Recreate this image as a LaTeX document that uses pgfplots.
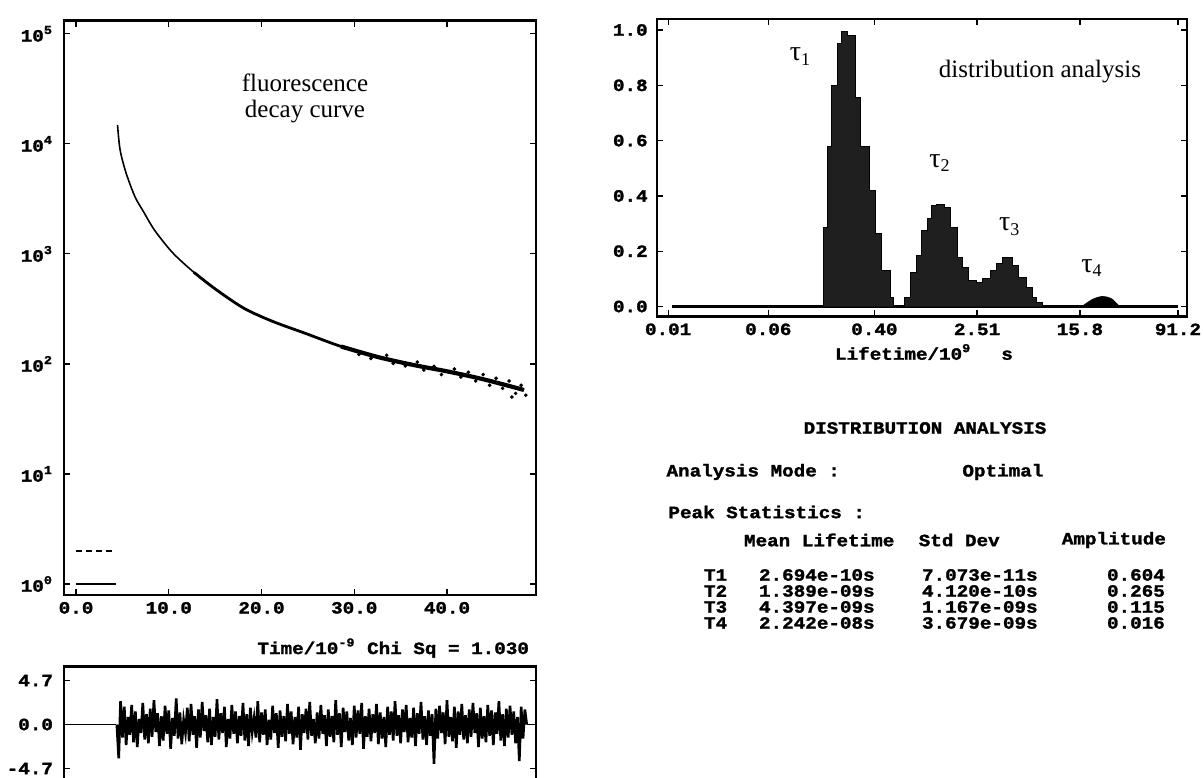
\documentclass[border=0pt]{standalone}
\usepackage{fontspec}
\setmainfont{Liberation Serif}
\newfontfamily\cour{Liberation Mono}[FakeStretch=1.12, BoldFeatures={FakeBold=1.6}]
\usepackage{pgfplots}
\pgfplotsset{compat=1.18}
\newcommand\tl{\cour\bfseries\fontsize{8.6bp}{10bp}\selectfont}
\newcommand\pw[1]{10\textsuperscript{#1}}
\newcommand\Tau[1]{{\fontsize{14bp}{16bp}\selectfont τ\raisebox{-0.35ex}{\fontsize{9bp}{10bp}\selectfont #1}}}
\pgfplotsset{panel/.style={scale only axis, axis line style={line width=1.1pt},
  every tick/.style={black, line width=0.6pt}, major tick length=3bp, tick align=inside,
  ticklabel style={font=\tl}}}
\begin{document}
\begin{tikzpicture}
\useasboundingbox (0,0) rectangle (601.5bp,389bp);
% ---------- decay curve ----------
\begin{axis}[panel, at={(32bp,91.5bp)}, anchor=south west, width=236bp, height=287.2bp,
  ymode=log, log basis y=10, xmin=-1.3, xmax=49.6, ymin=0.794, ymax=1.32e5,
  xtick={0,10,20,30,40}, xticklabels={0.0,10.0,20.0,30.0,40.0},
  ytick={1,10,100,1000,10000,100000}, yticklabel style={xshift=-2bp},
  yticklabels={\pw{0},\pw{1},\pw{2},\pw{3},\pw{4},\pw{5}}, yminorticks=false]
\addplot[black, line width=0.8pt, smooth] coordinates {(4.47,14900)(4.75,8820)(5.39,5450)(6.36,3300)(7.3,2400)(8.45,1650)(10.39,1030)(12.71,680)(15.04,478)(18.12,320)(21.23,243)(24.70,190)(28.59,144)(32.46,116)(36.33,98)(40.2,85)(44.08,72)(48.3,58)};
\addplot[black, line width=1.4pt, smooth] coordinates {(12.71,680)(15.04,478)(18.12,320)(21.23,243)(24.70,190)(28.59,144)(32.46,116)(36.33,98)(40.2,85)(44.08,72)(48.3,58)};
\addplot[black, line width=2.1pt, smooth] coordinates {(28.59,144)(32.46,116)(36.33,98)(40.2,85)(44.08,72)(48.3,58)};
\addplot[only marks, mark=*, mark size=0.7pt, black] coordinates {(30.5,122)(31.8,112)(33.5,120)(34.2,101)(35.5,96)(36.8,104)(37.5,88)(38.6,95)(39.4,80)(40.8,90)(41.5,76)(42.3,84)(43.1,70)(43.9,80)(44.6,64)(45.3,74)(46.0,60)(46.7,70)(47.4,54)(48.0,64)(48.5,52)(47.0,50)};
\addplot[black, line width=1.2pt] coordinates {(0,1)(4.3,1)};
\addplot[black, line width=1.2pt, dash pattern=on 3bp off 2bp] coordinates {(0,2)(4.3,2)};
\end{axis}
% ---------- residuals ----------
\begin{axis}[panel, at={(32bp,-4.15bp)}, anchor=south west, width=236bp, height=59.9bp,
  xmin=-1.3, xmax=49.6, ymin=-6.6, ymax=6.2, xtick=\empty,
  ytick={-4.7,0,4.7}, yticklabels={-4.7,0.0,4.7}, yticklabel style={xshift=-2bp}]
\addplot[black, line width=0.9pt] coordinates {(-1.3,0)(4.3,0)};
\addplot[black, line width=0.9pt] coordinates {(48.6,0)(49.6,0)};
\addplot[black, line width=1.3pt] coordinates {
(4.4,0.0)(4.6,-3.6)(4.8,2.5)(5.0,-1.4)(5.2,1.9)(5.4,-2.2)(5.6,0.8)(5.8,-1.1)(6.0,2.1)(6.2,-1.9)
(6.4,1.4)(6.6,-2.4)(6.8,0.6)(7.0,-0.9)(7.2,2.3)(7.4,-1.6)(7.6,1.1)(7.8,-2.0)(8.0,1.7)(8.2,-1.3)
(8.4,2.6)(8.6,-0.8)(8.8,1.2)(9.0,-2.3)(9.2,0.9)(9.4,-1.7)(9.6,2.0)(9.8,-1.0)(10.0,1.5)(10.2,-2.6)
(10.4,0.7)(10.6,-1.2)(10.8,2.8)(11.0,-1.5)(11.2,1.3)(11.4,-2.1)(11.6,0.5)(11.8,-0.9)(12.0,1.8)(12.2,-1.8)
(12.4,2.2)(12.6,-1.1)(12.8,0.9)(13.0,-2.5)(13.2,1.6)(13.4,-1.4)(13.6,2.4)(13.8,-0.7)(14.0,1.0)(14.2,-1.9)
(14.4,1.7)(14.6,-2.2)(14.8,0.8)(15.0,-1.3)(15.2,2.7)(15.4,-1.6)(15.6,1.2)(15.8,-0.9)(16.0,1.9)(16.2,-2.4)
(16.4,0.6)(16.6,-1.5)(16.8,2.1)(17.0,-1.0)(17.2,1.4)(17.4,-2.0)(17.6,0.9)(17.8,-1.2)(18.0,2.3)(18.2,-1.7)
(18.4,1.1)(18.6,-2.3)(18.8,1.8)(19.0,-0.8)(19.2,0.7)(19.4,-1.4)(19.6,2.5)(19.8,-1.9)(20.0,1.3)(20.2,-1.1)
(20.4,1.6)(20.6,-2.2)(20.8,0.5)(21.0,-1.6)(21.2,2.0)(21.4,-0.9)(21.6,1.2)(21.8,-2.5)(22.0,1.5)(22.2,-1.3)
(22.4,0.9)(22.6,-1.8)(22.8,2.2)(23.0,-1.0)(23.2,1.4)(23.4,-2.1)(23.6,0.8)(23.8,-1.4)(24.0,1.9)(24.2,-2.7)
(24.4,1.1)(24.6,-0.9)(24.8,1.7)(25.0,-1.6)(25.2,2.4)(25.4,-1.2)(25.6,0.6)(25.8,-2.0)(26.0,1.3)(26.2,-1.5)
(26.4,2.1)(26.6,-1.0)(26.8,1.0)(27.0,-2.3)(27.2,1.6)(27.4,-1.3)(27.6,0.9)(27.8,-1.9)(28.0,2.6)(28.2,-1.1)
(28.4,1.2)(28.6,-2.4)(28.8,1.8)(29.0,-0.8)(29.2,1.4)(29.4,-1.7)(29.6,0.7)(29.8,-2.2)(30.0,2.0)(30.2,-1.4)
(30.4,1.5)(30.6,-1.0)(30.8,2.3)(31.0,-2.6)(31.2,0.9)(31.4,-1.3)(31.6,1.7)(31.8,-1.8)(32.0,1.1)(32.2,-0.9)
(32.4,2.2)(32.6,-2.1)(32.8,1.3)(33.0,-1.5)(33.2,0.8)(33.4,-2.4)(33.6,1.9)(33.8,-1.1)(34.0,1.4)(34.2,-1.7)
(34.4,2.5)(34.6,-1.2)(34.8,1.0)(35.0,-2.0)(35.2,1.6)(35.4,-0.8)(35.6,2.1)(35.8,-1.9)(36.0,0.7)(36.2,-1.4)
(36.4,1.8)(36.6,-2.3)(36.8,1.2)(37.0,-1.0)(37.2,2.4)(37.4,-1.6)(37.6,0.9)(37.8,-2.2)(38.0,1.5)(38.2,-1.2)
(38.4,1.1)(38.6,-4.2)(38.8,1.7)(39.0,-1.5)(39.2,2.0)(39.4,-0.9)(39.6,1.3)(39.8,-2.1)(40.0,2.6)(40.2,-1.3)
(40.4,0.8)(40.6,-1.8)(40.8,1.9)(41.0,-2.5)(41.2,1.4)(41.4,-1.1)(41.6,2.2)(41.8,-1.6)(42.0,1.0)(42.2,-2.0)
(42.4,1.6)(42.6,-1.3)(42.8,2.3)(43.0,-0.9)(43.2,1.2)(43.4,-2.4)(43.6,1.8)(43.8,-1.5)(44.0,0.9)(44.2,-1.9)
(44.4,2.1)(44.6,-1.2)(44.8,1.5)(45.0,-2.2)(45.2,1.3)(45.4,-1.0)(45.6,2.5)(45.8,-1.7)(46.0,1.1)(46.2,-2.3)
(46.4,1.7)(46.6,-1.4)(46.8,2.0)(47.0,-1.1)(47.2,1.4)(47.4,-2.0)(47.6,0.8)(47.8,-3.9)(48.0,1.9)(48.2,-1.5)
(48.4,1.6)(48.6,0.0)};
\end{axis}
% ---------- lifetime distribution ----------
\begin{axis}[panel, at={(328.35bp,230.75bp)}, anchor=south west, width=265bp, height=148.75bp,
  xmode=log, xmin=0.00815, xmax=106.7, ymin=-0.036, ymax=1.04,
  xtick={0.01,0.06,0.40,2.51,15.8,91.2}, xticklabels={0.01,0.06,0.40,2.51,15.8,91.2},
  xminorticks=false, ytick={0,0.2,0.4,0.6,0.8,1.0}, yticklabels={0.0,0.2,0.4,0.6,0.8,1.0},
  yticklabel style={xshift=-1bp}]
\addplot[black, line width=1.2pt] coordinates {(0.0107,0)(91.2,0)};
\addplot[fill=black!88, draw=black, line width=0.5pt, const plot mark left] coordinates {
(0.1614,0)(0.1614,0.287)(0.1734,0.58)(0.1866,0.80)(0.2080,0.95)(0.2234,0.995)(0.2483,0.98)
(0.2831,0.757)(0.3133,0.58)(0.3698,0.42)(0.4111,0.263)(0.4581,0.13)(0.5297,0.034)(0.561,0)};
\addplot[fill=black!88, draw=black, line width=0.5pt, const plot mark left] coordinates {
(0.6808,0)(0.6808,0.034)(0.7586,0.124)(0.8453,0.184)(0.9290,0.275)(1.026,0.32)(1.109,0.365)
(1.211,0.37)(1.400,0.36)(1.556,0.287)(1.774,0.178)(1.932,0.142)(2.153,0.094)(2.483,0.088)
(2.767,0.10)(3.199,0.13)(3.556,0.154)(3.963,0.178)(4.753,0.148)(5.297,0.106)(6.109,0.07)
(6.808,0.034)(7.311,0.016)(8.147,0)};
\addplot[fill=black, draw=black, smooth] coordinates {(16.4,0)(17.8,0.012)(19.5,0.024)(21.4,0.032)(23.4,0.036)(25.7,0.034)(28.2,0.026)(30.2,0.012)(32.1,0)};
\end{axis}
% ---------- annotations ----------
\node[font=\fontsize{12.5bp}{14bp}\selectfont] at (152.5bp,347.5bp) {fluorescence};
\node[font=\fontsize{12.5bp}{14bp}\selectfont] at (152.5bp,333bp) {decay curve};
\node[font=\fontsize{12.5bp}{14bp}\selectfont] at (520bp,353bp) {distribution analysis};
\node at (400bp,360.7bp) {\Tau{1}};
\node at (469.8bp,307.5bp) {\Tau{2}};
\node at (504.6bp,275.7bp) {\Tau{3}};
\node at (545.8bp,255bp) {\Tau{4}};
\node[font=\tl, anchor=west] at (414bp,213bp) {Lifetime/10\textsuperscript{9}\hspace{15bp}s};
\node[font=\tl, anchor=east] at (268bp,65bp) {Time/10\textsuperscript{-9} Chi Sq = 1.030};
\node[font=\tl] at (462.5bp,175bp) {DISTRIBUTION ANALYSIS};
\node[font=\tl, anchor=west] at (329.75bp,153bp) {Analysis Mode :};
\node[font=\tl, anchor=west] at (477.7bp,153bp) {Optimal};
\node[font=\tl, anchor=west] at (330.7bp,133bp) {Peak Statistics :};
\node[font=\tl, anchor=west] at (368.5bp,119bp) {Mean Lifetime};
\node[font=\tl, anchor=west] at (455.85bp,119bp) {Std Dev};
\node[font=\tl, anchor=west] at (527.4bp,119bp) {Amplitude};
\foreach \y/\a/\b/\c/\d in {101.5/T1/2.694e-10s/7.073e-11s/0.604, 93.5/T2/1.389e-09s/4.120e-10s/0.265,
  85.5/T3/4.397e-09s/1.167e-09s/0.115, 77.5/T4/2.242e-08s/3.679e-09s/0.016}{
  \node[font=\tl, anchor=west] at (348.5bp,\y bp) {\a};
  \node[font=\tl, anchor=west] at (376bp,\y bp) {\b};
  \node[font=\tl, anchor=west] at (457.5bp,\y bp) {\c};
  \node[font=\tl, anchor=west] at (550bp,\y bp) {\d};
}
\end{tikzpicture}
\end{document}
